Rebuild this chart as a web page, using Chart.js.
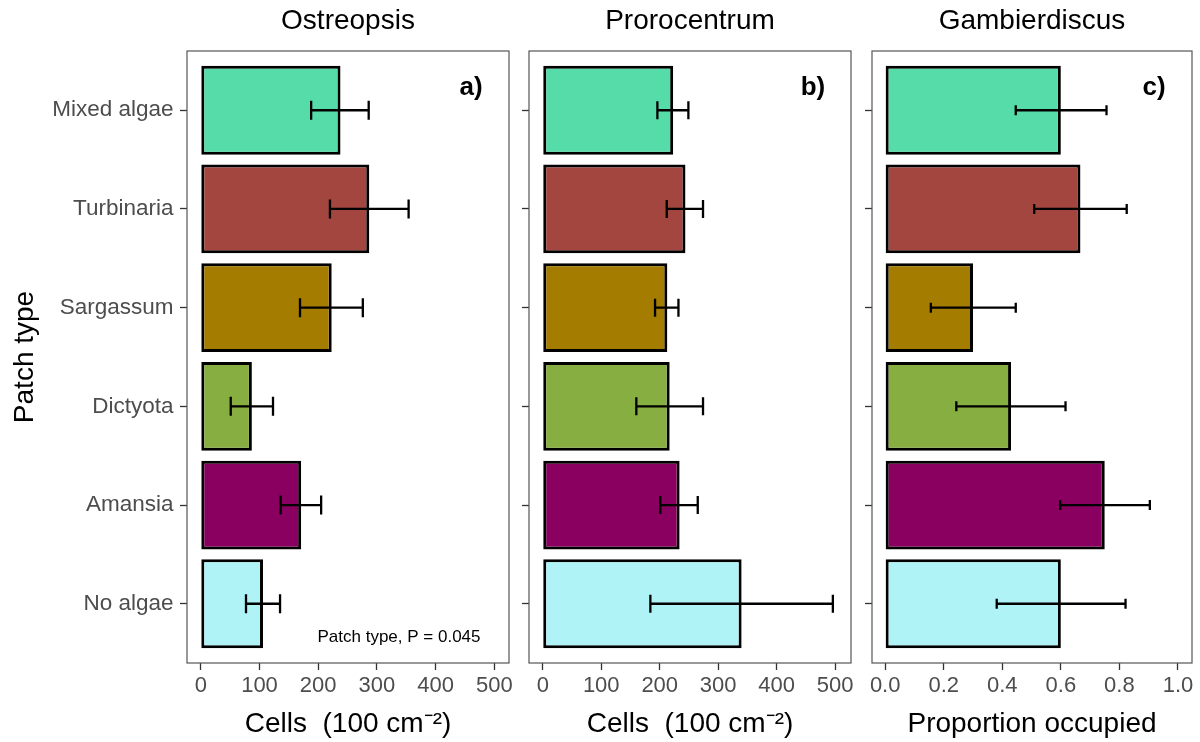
<!DOCTYPE html>
<html>
<head>
<meta charset="utf-8">
<script src="https://cdn.jsdelivr.net/npm/chart.js@4"></script>
<style>
body { margin: 0; background: #fff; }
#wrap { position: relative; width: 1200px; height: 742px; }
canvas { position: absolute; top: 0; }
</style>
</head>
<body>
<div id="wrap">
	<canvas id="chartA" width="520" height="742" style="left:0px"></canvas>
	<canvas id="chartB" width="340" height="742" style="left:520px"></canvas>
	<canvas id="chartC" width="340" height="742" style="left:860px"></canvas>
</div>
<script>
/* categories, top to bottom */
var patchTypes = ['Mixed algae', 'Turbinaria', 'Sargassum', 'Dictyota', 'Amansia', 'No algae'];
var patchColours = ['#55dca9', '#a3463f', '#a37c00', '#87ae40', '#8a0061', '#aff3f7'];

/* Ostreopsis, cells 100 cm-2 */
var ostreopsisMean = [238, 287, 223, 87, 171, 106];
var ostreopsisLow  = [188, 220, 169, 51, 136, 77];
var ostreopsisHigh = [286, 354, 276, 123, 205, 135];

/* Prorocentrum, cells 100 cm-2 */
var prorocentrumMean = [223, 244, 213, 217, 234, 340];
var prorocentrumLow  = [196, 212, 192, 160, 201, 184];
var prorocentrumHigh = [249, 274, 232, 274, 265, 496];

/* Gambierdiscus, proportion occupied */
var gambierMean = [0.60, 0.667, 0.30, 0.43, 0.75, 0.60];
var gambierLow  = [0.446, 0.509, 0.156, 0.243, 0.598, 0.381];
var gambierHigh = [0.756, 0.825, 0.446, 0.616, 0.904, 0.821];

/* tick labels */
var cellTicks = [0, 100, 200, 300, 400, 500];
var propTicks = [0, 0.2, 0.4, 0.6, 0.8, 1.0];

var FONT = '"Liberation Sans", Arial, Helvetica, sans-serif';
Chart.defaults.font.family = FONT;

// error bars, grey panel box and panel letters
var panelExtras = {
	id: 'panelExtras',
	afterDatasetsDraw: function(chart, args, o) {
		var ctx = chart.ctx;
		var area = chart.chartArea;
		var xs = chart.scales.x, ys = chart.scales.y;
		var ds = chart.data.datasets[0];
		ctx.save();
		ctx.strokeStyle = '#000';
		ctx.lineWidth = 2.3;
		for (var i = 0; i < ds.errLow.length; i++) {
			var y = ys.getPixelForValue(i + 1);
			var x1 = xs.getPixelForValue(ds.errLow[i]);
			var x2 = xs.getPixelForValue(ds.errHigh[i]);
			ctx.beginPath();
			ctx.moveTo(x1, y); ctx.lineTo(x2, y);
			ctx.moveTo(x1, y - o.cap); ctx.lineTo(x1, y + o.cap);
			ctx.moveTo(x2, y - o.cap); ctx.lineTo(x2, y + o.cap);
			ctx.stroke();
		}
		ctx.strokeStyle = '#555';
		ctx.lineWidth = 1.2;
		ctx.strokeRect(area.left, area.top, area.right - area.left, area.bottom - area.top);

		ctx.fillStyle = '#000';
		ctx.textAlign = 'center';
		ctx.textBaseline = 'middle';
		ctx.font = 'bold 26px ' + FONT;
		ctx.fillText(o.tag, area.right - 38, area.top + 37);
		if (o.note) {
			ctx.font = '17px ' + FONT;
			ctx.fillText(o.note, area.right - 110, area.bottom - 26);
		}
		ctx.restore();
	}
};

function drawPanel(canvasId, title, means, lows, highs, cfg) {
	var ctx = document.getElementById(canvasId).getContext('2d');
	var points = means.map(function(v, i) { return { x: v, y: i + 1 }; });

	return new Chart(ctx, {
		type: 'bar',
		data: {
			datasets: [{
				data: points,
				errLow: lows,
				errHigh: highs,
				backgroundColor: patchColours,
				borderColor: '#000',
				borderWidth: 3,
				borderSkipped: false,
				barPercentage: 0.9,
				categoryPercentage: 1.0
			}]
		},
		options: {
			responsive: false,
			devicePixelRatio: 1,
			animation: false,
			indexAxis: 'y',
			layout: { padding: { left: 0, right: cfg.padRight, top: 0, bottom: 0 } },
			plugins: {
				legend: { display: false },
				tooltip: { enabled: false },
				title: {
					display: true,
					text: title,
					fullSize: false,
					color: '#000',
					font: { size: 28, weight: 'normal', lineHeight: 1.2 },
					padding: { top: 4.7, bottom: 12.7 }
				},
				panelExtras: { tag: cfg.tag, note: cfg.note, cap: cfg.cap }
			},
			scales: {
				x: {
					type: 'linear',
					min: cfg.xMin,
					max: cfg.xMax,
					afterBuildTicks: function(scale) {
						scale.ticks = cfg.ticks.map(function(v) { return { value: v }; });
					},
					afterFit: function(scale) { scale.height = 79; },
					ticks: {
						autoSkip: false,
						maxRotation: 0,
						padding: 3,
						color: '#4d4d4d',
						font: { size: 22 },
						callback: cfg.tickFormat
					},
					grid: { drawOnChartArea: false, tickLength: 7, tickColor: '#333', tickWidth: 1.3 },
					border: { display: false },
					title: {
						display: true,
						text: cfg.xTitle,
						color: '#000',
						font: { size: 28, lineHeight: 1.2 },
						padding: { top: 0, bottom: 1 }
					}
				},
				y: {
					type: 'linear',
					reverse: true,
					offset: false,
					min: 0.4,
					max: 6.6,
					afterBuildTicks: function(scale) {
						scale.ticks = patchTypes.map(function(n, i) { return { value: i + 1 }; });
					},
					afterFit: function(scale) { scale.width = cfg.yWidth; },
					ticks: {
						display: cfg.showNames,
						autoSkip: false,
						padding: 6.5,
						color: '#4d4d4d',
						font: { size: 22.5 },
						callback: function(v) { return patchTypes[Math.round(v) - 1]; }
					},
					grid: { offset: false, drawOnChartArea: false, tickLength: 7, tickColor: '#333', tickWidth: 1.3 },
					border: { display: false },
					title: {
						display: cfg.showNames,
						text: 'Patch type',
						color: '#000',
						font: { size: 28, lineHeight: 1.2 },
						padding: { top: 8, bottom: 0 }
					}
				}
			}
		},
		plugins: [panelExtras]
	});
}

var cellsTitle = 'Cells  (100 cm\u207B\u00B2)';
var intLabel = function(v) { return String(v); };

drawPanel('chartA', 'Ostreopsis', ostreopsisMean, ostreopsisLow, ostreopsisHigh, {
	tag: 'a)', note: 'Patch type, P = 0.045', cap: 9.5,
	xMin: -23.5, xMax: 525, ticks: cellTicks, tickFormat: intLabel, xTitle: cellsTitle,
	yWidth: 187, padRight: 11, showNames: true
});

drawPanel('chartB', 'Prorocentrum', prorocentrumMean, prorocentrumLow, prorocentrumHigh, {
	tag: 'b)', note: null, cap: 9,
	xMin: -23.5, xMax: 527, ticks: cellTicks, tickFormat: intLabel, xTitle: cellsTitle,
	yWidth: 9, padRight: 9, showNames: false
});

drawPanel('chartC', 'Gambierdiscus', gambierMean, gambierLow, gambierHigh, {
	tag: 'c)', note: null, cap: 5,
	xMin: -0.045, xMax: 1.048, ticks: propTicks,
	tickFormat: function(v) { return v.toFixed(1); }, xTitle: 'Proportion occupied',
	yWidth: 12, padRight: 8, showNames: false
});
</script>
</body>
</html>
